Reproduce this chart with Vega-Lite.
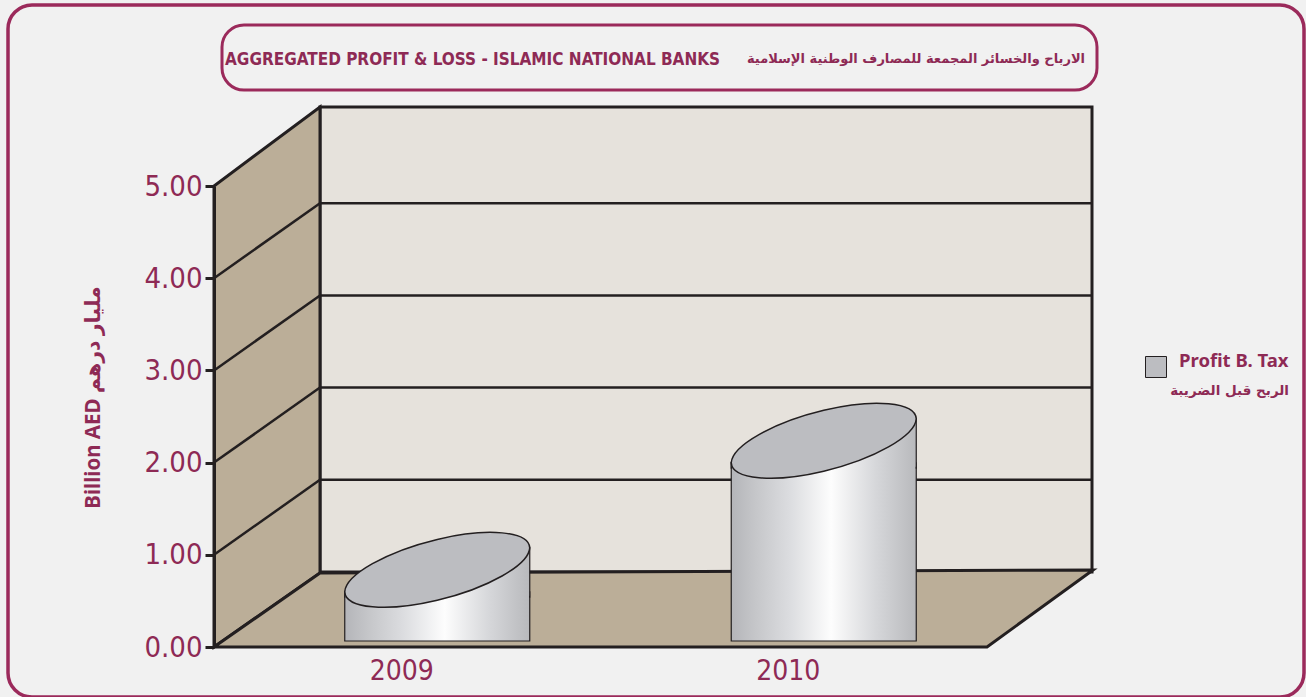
{
  "$schema": "https://vega.github.io/schema/vega-lite/v6.json",
  "autosize": {"type": "none"},
  "width": 1296,
  "height": 692,
  "padding": {"left": 8, "top": 5, "right": 2, "bottom": 0},
  "background": "#f1f1f1",
  "view": {"stroke": "#9b2a5b", "strokeWidth": 3.5, "cornerRadius": 24, "fill": null},
  "data": {"values": [
    {"year": 2009, "value": 0.43, "series": "Profit B. Tax"},
    {"year": 2010, "value": 1.83, "series": "Profit B. Tax"}
  ]},
  "datasets": {"grid": [{"v": 1}, {"v": 2}, {"v": 3}, {"v": 4}]},
  "layer": [
    {
      "data": {"values": [{}]},
      "mark": {"type": "rect", "fill": "#e6e2dc", "stroke": "#231f20", "strokeWidth": 3, "xOffset": 106, "x2Offset": 105, "yOffset": -75, "y2Offset": -79},
      "encoding": {
        "x": {"datum": 2008.5, "type": "quantitative", "title": null,
          "scale": {"domain": [2008.5, 2010.5], "range": [206, 979], "nice": false, "zero": false, "padding": 0},
          "axis": {"values": [2009, 2010], "format": "d", "offset": -50, "domain": false, "ticks": false, "grid": false, "title": null,
            "labelFont": "DejaVu Sans Condensed, sans-serif", "labelFontSize": 28, "labelColor": "#8e2a55",
            "labelPadding": 10, "labelOffset": -6, "labelFlush": false, "zindex": 1}},
        "x2": {"datum": 2010.5},
        "y": {"datum": 0, "type": "quantitative",
          "scale": {"domain": [0, 5], "range": [642, 181], "nice": false, "zero": false, "padding": 0},
          "axis": {"values": [0, 1, 2, 3, 4, 5], "format": ".2f", "offset": -206, "grid": false,
            "domain": true, "domainColor": "#231f20", "domainWidth": 3,
            "ticks": true, "tickSize": 9, "tickWidth": 3, "tickColor": "#231f20",
            "labelFont": "DejaVu Sans Condensed, sans-serif", "labelFontSize": 29, "labelColor": "#8e2a55",
            "labelPadding": 3, "labelFlush": false, "labelOverlap": false,
            "title": "Billion AED     مليار درهم", "titleFont": "Noto Sans, DejaVu Sans, sans-serif", "titleFontSize": 20.5, "titleFontWeight": "bold",
            "titleColor": "#8e2a55", "titleX": -121, "titleY": 392, "titleAngle": 270, "titleAlign": "center", "titleBaseline": "middle", "zindex": 1}},
        "y2": {"datum": 5}
      }
    },
    {
      "data": {"name": "grid"},
      "mark": {"type": "rule", "stroke": "#231f20", "strokeWidth": 2.5, "xOffset": 106, "x2Offset": 105, "yOffset": -75},
      "encoding": {
        "x": {"datum": 2008.5, "type": "quantitative"},
        "x2": {"datum": 2010.5},
        "y": {"field": "v", "type": "quantitative"}
      }
    },
    {
      "data": {"values": [{}]},
      "mark": {"type": "point", "shape": "M 0 0 L 0 -461 L 106 -540 L 106 -74 Z", "size": 4, "filled": true, "fill": "#bbae98", "stroke": "#231f20", "strokeWidth": 3, "opacity": 1},
      "encoding": {
        "x": {"datum": 2008.5, "type": "quantitative"},
        "y": {"datum": 0, "type": "quantitative"}
      }
    },
    {
      "data": {"name": "grid"},
      "mark": {"type": "rule", "stroke": "#231f20", "strokeWidth": 2.5, "x2Offset": 106, "y2Offset": -75},
      "encoding": {
        "x": {"datum": 2008.5, "type": "quantitative"},
        "x2": {"datum": 2008.5},
        "y": {"field": "v", "type": "quantitative"},
        "y2": {"field": "v"}
      }
    },
    {
      "data": {"values": [{}]},
      "mark": {"type": "point", "shape": "M 0 0 L 773 0 L 879 -77 L 106 -74 Z", "size": 4, "filled": true, "fill": "#bbae98", "stroke": "#231f20", "strokeWidth": 3, "opacity": 1},
      "encoding": {
        "x": {"datum": 2008.5, "type": "quantitative"},
        "y": {"datum": 0, "type": "quantitative"}
      }
    },
    {
      "data": {"values": [{}]},
      "mark": {"type": "rect", "fill": "#f1f1f1", "fillOpacity": 0, "stroke": "#9b2a5b", "strokeWidth": 3, "cornerRadius": 22},
      "encoding": {
        "x": {"datum": 2008.5207, "type": "quantitative"},
        "x2": {"datum": 2010.7846},
        "y": {"datum": 6.746, "type": "quantitative"},
        "y2": {"datum": 6.041}
      }
    },
    {
      "data": {"values": [{}]},
      "mark": {"type": "text", "text": "AGGREGATED PROFIT & LOSS - ISLAMIC NATIONAL BANKS", "font": "DejaVu Sans Condensed, sans-serif", "fontSize": 17, "fontWeight": "bold", "fill": "#8e2a55", "align": "left", "baseline": "alphabetic"},
      "encoding": {
        "x": {"datum": 2008.5285, "type": "quantitative"},
        "y": {"datum": 6.31, "type": "quantitative"}
      }
    },
    {
      "data": {"values": [{}]},
      "mark": {"type": "text", "text": "الارباح والخسائر المجمعة للمصارف الوطنية الإسلامية", "font": "DejaVu Sans, sans-serif", "fontSize": 13, "fontWeight": "bold", "fill": "#8e2a55", "align": "right", "baseline": "alphabetic"},
      "encoding": {
        "x": {"datum": 2010.7536, "type": "quantitative"},
        "y": {"datum": 6.33, "type": "quantitative"}
      }
    },
    {
      "mark": {"type": "bar", "width": 185, "xOffset": 30, "yOffset": -15.5, "y2Offset": -6, "stroke": "#231f20", "strokeWidth": 1.2,
        "fill": {"gradient": "linear", "x1": 0, "y1": 0, "x2": 1, "y2": 0, "stops": [
          {"offset": 0, "color": "#b4b5b9"}, {"offset": 0.12, "color": "#c4c5c8"}, {"offset": 0.32, "color": "#dcdde0"},
          {"offset": 0.54, "color": "#fdfdfd"}, {"offset": 0.78, "color": "#d6d7da"}, {"offset": 1, "color": "#b8b9bc"}]}},
      "encoding": {
        "x": {"field": "year", "type": "quantitative"},
        "y": {"field": "value", "type": "quantitative"},
        "y2": {"datum": 0}
      }
    },
    {
      "mark": {"type": "point", "shape": "M -92.5 22 A 95.4 30.1 -14.9 0 1 92.5 -22 L 92.5 26 L -92.5 26 Z", "size": 4, "filled": true, "opacity": 1, "strokeWidth": 0, "xOffset": 30, "yOffset": -37.5,
        "fill": {"gradient": "linear", "x1": 0, "y1": 0, "x2": 1, "y2": 0, "stops": [
          {"offset": 0, "color": "#b4b5b9"}, {"offset": 0.12, "color": "#c4c5c8"}, {"offset": 0.32, "color": "#dcdde0"},
          {"offset": 0.54, "color": "#fdfdfd"}, {"offset": 0.78, "color": "#d6d7da"}, {"offset": 1, "color": "#b8b9bc"}]}},
      "encoding": {
        "x": {"field": "year", "type": "quantitative"},
        "y": {"field": "value", "type": "quantitative"}
      }
    },
    {
      "mark": {"type": "point", "shape": "M -92.5 21 L -92.5 28 M 92.5 -23 L 92.5 28", "size": 4, "filled": false, "opacity": 1, "stroke": "#231f20", "strokeWidth": 1.2, "xOffset": 30, "yOffset": -37.5},
      "encoding": {
        "x": {"field": "year", "type": "quantitative"},
        "y": {"field": "value", "type": "quantitative"}
      }
    },
    {
      "mark": {"type": "point", "shape": "M -92.5 22 A 95.4 30.1 -14.9 0 1 92.5 -22 A 95.4 30.1 -14.9 0 1 -92.5 22 Z", "size": 4, "filled": true, "opacity": 1, "stroke": "#231f20", "strokeWidth": 1.5, "xOffset": 30, "yOffset": -37.5},
      "encoding": {
        "x": {"field": "year", "type": "quantitative"},
        "y": {"field": "value", "type": "quantitative"},
        "fill": {"field": "series", "type": "nominal", "scale": {"range": ["#bcbdc1"]},
          "legend": {"orient": "none", "legendX": 1137, "legendY": 351, "padding": 0,
            "title": "الربح قبل الضريبة", "titleOrient": "bottom", "titleAnchor": "end", "titleFont": "DejaVu Sans, sans-serif", "titleFontSize": 13.5,
            "titleFontWeight": "bold", "titleColor": "#8e2a55", "titlePadding": 4,
            "labelFont": "Noto Sans, DejaVu Sans, sans-serif", "labelFontSize": 18.5, "labelFontWeight": "bold", "labelColor": "#8e2a55",
            "labelOffset": 12, "labelBaseline": "alphabetic", "symbolType": "square", "symbolSize": 441, "symbolStrokeColor": "#231f20", "symbolStrokeWidth": 1}}
      }
    }
  ]
}
